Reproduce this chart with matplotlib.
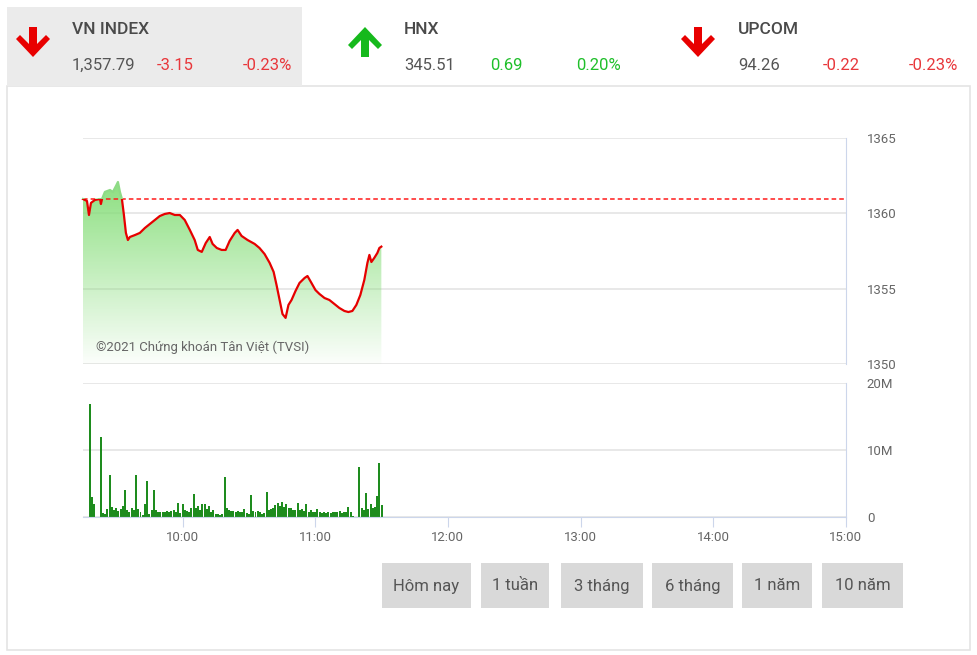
import numpy as np
import matplotlib.pyplot as plt
from matplotlib.patches import Rectangle, Polygon

plt.rcParams['font.family'] = ['Roboto', 'DejaVu Sans']

# header quotes
names = ["VN INDEX", "HNX", "UPCOM"]
closes = ["1,357.79", "345.51", "94.26"]
changes = ["-3.15", "0.69", "-0.22"]
pcts = ["-0.23%", "0.20%", "-0.23%"]
up = [False, True, False]

ref_price = 1360.94

# intraday index, minutes after 9:15
minutes = [0, 1.8, 2.7, 3.6, 5.4, 7.7, 8.1, 8.6, 9.9, 12.2, 13.5, 14.9, 15.8, 16.7,
           17.6, 18.5, 19.4, 20.3, 21.2, 23.5, 25.7, 28.0, 30.2, 32.5, 34.7, 37.0,
           39.2, 41.5, 43.8, 46.0, 48.3, 50.5, 51.9, 53.7, 55.5, 57.3, 58.6, 60.5,
           62.7, 64.5, 66.3, 68.6, 69.9, 71.7, 74.4, 77.6, 79.8, 82.1, 84.4, 86.2,
           87.5, 88.9, 90.2, 91.6, 92.9, 94.3, 96.1, 97.9, 100.2, 101.5, 103.3,
           105.1, 106.9, 109.2, 111.4, 113.7, 115.9, 118.2, 120.0, 121.8, 123.6,
           125.4, 127.2, 128.6, 129.5, 130.4, 131.7, 133.1, 134.0, 134.9]
prices = [1360.95, 1360.82, 1359.89, 1360.69, 1360.89, 1360.95, 1360.62, 1360.95,
          1361.42, 1361.55, 1361.42, 1361.81, 1362.08, 1361.42, 1360.95, 1359.89,
          1358.70, 1358.23, 1358.43, 1358.56, 1358.70, 1359.03, 1359.29, 1359.56,
          1359.82, 1359.96, 1360.02, 1359.89, 1359.89, 1359.56, 1358.90, 1358.23,
          1357.57, 1357.44, 1358.03, 1358.43, 1357.97, 1357.70, 1357.57, 1357.57,
          1358.17, 1358.70, 1358.90, 1358.50, 1358.23, 1357.97, 1357.70, 1357.30,
          1356.71, 1356.11, 1355.25, 1354.25, 1353.32, 1353.06, 1353.92, 1354.25,
          1354.85, 1355.38, 1355.71, 1355.84, 1355.38, 1354.91, 1354.65, 1354.38,
          1354.25, 1353.98, 1353.72, 1353.52, 1353.45, 1353.52, 1353.92, 1354.58,
          1355.58, 1356.71, 1357.24, 1356.77, 1357.04, 1357.37, 1357.70, 1357.79]

# volume per minute (millions)
volume = [0, 0, 0, 16.9, 3.0, 2.0, 0, 0, 12.0, 0.6,
          0.4, 1.2, 6.3, 1.5, 1.0, 1.3, 0.9, 1.2, 1.6, 4.0,
          1.1, 0.8, 1.4, 1.0, 6.3, 1.2, 0.7, 0.3, 2.0, 5.4,
          0.5, 1.0, 4.0, 1.0, 0.8, 0.8, 0.7, 0.7, 0.9, 0.8,
          0.9, 1.1, 0.8, 2.1, 0.6, 2.0, 1.0, 0.9, 0.8, 1.3,
          3.4, 1.3, 1.7, 1.1, 1.9, 2.0, 1.2, 1.6, 0.8, 1.0,
          0.5, 0.4, 0.3, 0.5, 6.0, 1.3, 1.0, 0.9, 0.9, 0.8,
          0.9, 0.7, 0.8, 1.2, 0.6, 0.5, 3.3, 0.9, 0.8, 0.9,
          0.7, 0.4, 0.6, 3.7, 1.1, 1.2, 1.3, 1.8, 2.1, 1.6,
          2.3, 1.5, 1.9, 1.3, 1.4, 1.1, 1.0, 2.1, 1.0, 1.2,
          0.9, 2.0, 0.8, 1.0, 0.7, 0.8, 1.2, 0.7, 0.6, 0.7,
          0.6, 0.7, 0.6, 0.7, 0.8, 0.7, 0.9, 0.6, 0.7, 0.8,
          1.5, 0.7, 0.2, 0, 0, 7.4, 1.3, 1.0, 3.6, 1.2,
          2.0, 1.4, 1.5, 3.1, 8.1, 1.8]

time_ticks = [45, 105, 165, 225, 285, 345]
time_labels = ["10:00", "11:00", "12:00", "13:00", "14:00", "15:00"]
buttons = ["Hôm nay", "1 tuần", "3 tháng", "6 tháng", "1 năm", "10 năm"]
button_x = [(382, 471), (481, 549), (561, 643), (652, 733), (742, 812), (822, 903)]

W, H = 977, 655
fig = plt.figure(figsize=(W / 100, H / 100), dpi=100)


def fx(x):
    return x / W


def fy(y):
    return 1 - y / H


GREEN = '#1fbf2a'
GRID = '#e6e6e6'
AXC = '#ccd6eb'
TXT = '#666666'

# panel frame and header highlight (behind the axes)
fig.patches.append(Rectangle((fx(7), fy(650)), fx(963), (650 - 86) / H,
                             transform=fig.transFigure, facecolor='white',
                             edgecolor='#e4e4e4', lw=1.2, zorder=-2))
fig.patches.append(Rectangle((fx(7), fy(86)), fx(295), (86 - 7) / H,
                             transform=fig.transFigure, facecolor='#ebebeb',
                             edgecolor='none', zorder=-2))


def arrow(cx, down, color):
    # thick arrow icon, 34px wide, 30px tall
    pts = [(-4, 0), (4, 0), (4, 17), (13, 8), (17, 12), (0, 30), (-17, 12), (-13, 8), (-4, 17)]
    top = 27
    verts = []
    for dx, dy in pts:
        y = top + dy if down else top + 30 - dy
        verts.append((fx(cx + dx), fy(y)))
    fig.patches.append(Polygon(verts, closed=True, transform=fig.transFigure,
                               facecolor=color, edgecolor='none'))


header_x = [72, 404, 738]
chg_x = [157, 490, 823]
pct_x = [292, 621, 958]
arrow_x = [33, 365, 698]
for i in range(3):
    col = GREEN if up[i] else '#e8373b'
    arrow(arrow_x[i], not up[i], '#16b91c' if up[i] else '#e80000')
    fig.text(fx(header_x[i]), fy(30), names[i], fontsize=12.5, fontweight='medium',
             color='#4a4a4a', va='center', ha='left')
    fig.text(fx(header_x[i]), fy(65), closes[i], fontsize=12, color='#555555',
             va='center', ha='left')
    fig.text(fx(chg_x[i]), fy(65), changes[i], fontsize=12, color=col,
             va='center', ha='left')
    fig.text(fx(pct_x[i]), fy(65), pcts[i], fontsize=12, color=col,
             va='center', ha='right')

# price panel
ax = fig.add_axes([fx(83), fy(364), (846 - 83) / W, (364 - 138) / H])
ax.patch.set_alpha(0)
t = np.array(minutes)
p = np.array(prices)

poly = ax.fill_between(t, p, 1350, color='none', lw=0)
grad = np.zeros((100, 1, 4))
grad[:, 0, 0] = 0.52
grad[:, 0, 1] = 0.87
grad[:, 0, 2] = 0.47
grad[:, 0, 3] = np.linspace(0.03, 0.95, 100)
im = ax.imshow(grad, extent=[0, 136, 1350, 1362.3], aspect='auto', origin='lower',
               zorder=1, interpolation='bilinear')
im.set_clip_path(poly.get_paths()[0], transform=ax.transData)

below = Rectangle((-10, 1340), 400, ref_price - 1340, transform=ax.transData)
above = Rectangle((-10, ref_price), 400, 20, transform=ax.transData)
l1, = ax.plot(t, p, color='#e60000', lw=1.6, zorder=3)
l1.set_clip_path(below)
l2, = ax.plot(t, p, color='#8edb86', lw=1.6, zorder=3)
l2.set_clip_path(above)
ax.axhline(ref_price, color='#ff1a1a', lw=1.1, ls=(0, (3, 2)), zorder=2)

ax.set_xlim(0, 345)
ax.set_ylim(1350, 1365)
ax.set_yticks([1350, 1355, 1360, 1365])
ax.yaxis.tick_right()
ax.tick_params(axis='y', length=0, pad=15, labelsize=9.5, labelcolor=TXT)
ax.set_xticks([])
ax.grid(axis='y', color=GRID, lw=1.3)
ax.set_axisbelow(True)
for s in ['top', 'left', 'bottom']:
    ax.spines[s].set_visible(False)
ax.spines['right'].set_color(AXC)
ax.text(0.017, 0.045, "©2021 Chứng khoán Tân Việt (TVSI)", transform=ax.transAxes,
        fontsize=9.5, color='#666666', ha='left', va='bottom', zorder=4)

# volume panel
av = fig.add_axes([fx(83), fy(517), (846 - 83) / W, (517 - 383) / H])
av.patch.set_alpha(0)
av.bar(np.arange(len(volume)), volume, width=0.9, color='#1e8c1e', lw=0)
av.set_xlim(0, 345)
av.set_ylim(0, 20)
av.set_yticks([0, 10, 20])
av.set_yticklabels(["0", "10M", "20M"])
av.yaxis.tick_right()
av.tick_params(axis='y', length=0, pad=15, labelsize=9.5, labelcolor=TXT)
av.set_xticks(time_ticks)
av.set_xticklabels(time_labels)
av.tick_params(axis='x', length=7, color=AXC, labelsize=9.5, labelcolor=TXT, pad=3)
av.grid(axis='y', color=GRID, lw=1.3)
av.set_axisbelow(True)
for s in ['top', 'left']:
    av.spines[s].set_visible(False)
av.spines['right'].set_color(AXC)
av.spines['bottom'].set_color(AXC)

# range buttons
for label, (x0, x1) in zip(buttons, button_x):
    fig.patches.append(Rectangle((fx(x0), fy(608)), (x1 - x0) / W, 45 / H,
                                 transform=fig.transFigure, facecolor='#d9d9d9',
                                 edgecolor='none'))
    fig.text(fx((x0 + x1) / 2), fy(586), label, fontsize=12, color='#555555',
             ha='center', va='center')

fig.savefig('out.png', dpi=100)
